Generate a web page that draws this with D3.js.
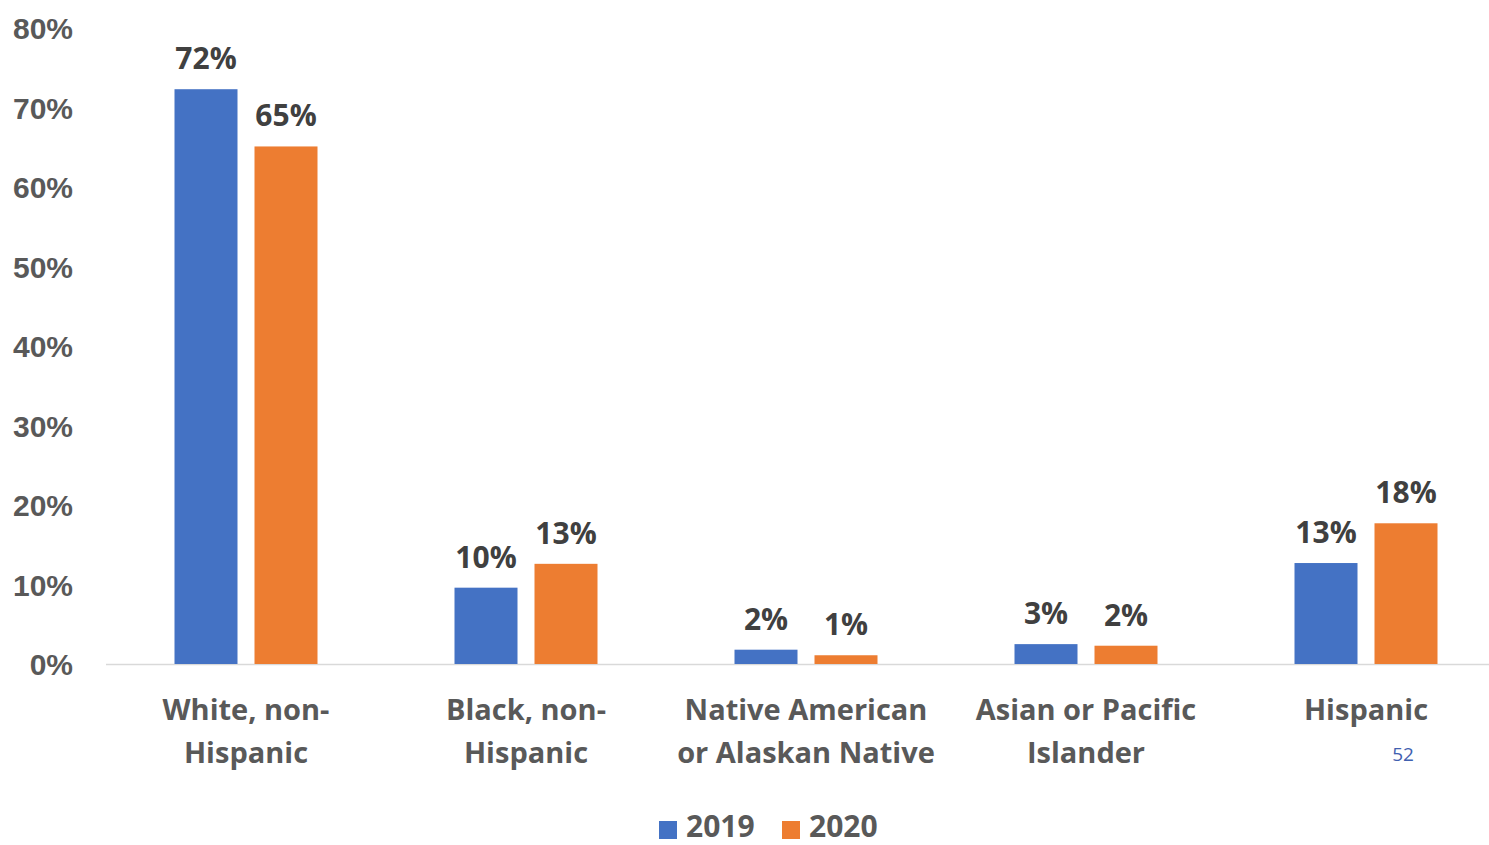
<!DOCTYPE html>
<html>
<head>
<meta charset="utf-8">
<script src="https://cdn.jsdelivr.net/npm/d3@7"></script>
<style>
  html, body { margin: 0; padding: 0; background: #fff; }
  svg { display: block; font-family: "Open Sans", "DejaVu Sans", sans-serif; }
</style>
</head>
<body>
<svg id="chart" width="1489" height="845"></svg>
<script>
const categories = [
  ["White, non-", "Hispanic"],
  ["Black, non-", "Hispanic"],
  ["Native American", "or Alaskan Native"],
  ["Asian or Pacific", "Islander"],
  ["Hispanic"]
];
const seriesNames = ["2019", "2020"];
const values2019 = [72.3, 9.6, 1.8, 2.5, 12.7];
const values2020 = [65.1, 12.6, 1.1, 2.3, 17.7];
const yTicks = [0, 10, 20, 30, 40, 50, 60, 70, 80];
const colors = ["#4472C4", "#ED7D31"];
const pageNumber = "52";

const svg = d3.select("#chart");
const catKeys = categories.map((c, i) => i);
const FS = "30px";

const x0 = d3.scaleBand().domain(catKeys).range([106, 1506]).paddingInner(0).paddingOuter(0);
const x1 = d3.scaleBand().domain(seriesNames).range([0, 143]).paddingInner(0.2125).paddingOuter(0);
const y = d3.scaleLinear().domain([0, 80]).range([664, 28]);
const color = d3.scaleOrdinal().domain(seriesNames).range(colors);

// baseline
svg.append("line")
  .attr("x1", 106).attr("x2", 1489)
  .attr("y1", y(0) + 0.5).attr("y2", y(0) + 0.5)
  .attr("stroke", "#D9D9D9").attr("stroke-width", 1.5);

// y axis labels
const yAxis = d3.axisLeft(y).tickValues(yTicks).tickFormat(d => d + "%").tickSize(0).tickPadding(0);
const yg = svg.append("g").attr("transform", "translate(73,0)").call(yAxis);
yg.select(".domain").remove();
yg.selectAll("text")
  .attr("fill", "#595959")
  .style("font-size", FS)
  .style("font-weight", "700")
  .attr("dy", "0.35em");

// bars
const data = catKeys.map(i => ({
  cat: i,
  vals: [
    { s: seriesNames[0], v: values2019[i] },
    { s: seriesNames[1], v: values2020[i] }
  ]
}));

const groups = svg.append("g").selectAll("g").data(data).join("g")
  .attr("transform", d => `translate(${x0(d.cat) + x0.bandwidth() / 2 - 71.5},0)`);

groups.selectAll("rect").data(d => d.vals).join("rect")
  .attr("x", d => x1(d.s))
  .attr("width", x1.bandwidth())
  .attr("y", d => y(d.v))
  .attr("height", d => y(0) - y(d.v))
  .attr("fill", d => color(d.s));

groups.selectAll("text.lbl").data(d => d.vals).join("text")
  .attr("class", "lbl")
  .attr("x", d => x1(d.s) + x1.bandwidth() / 2)
  .attr("y", d => y(d.v) - 20)
  .attr("text-anchor", "middle")
  .attr("fill", "#404040")
  .style("font-size", FS)
  .style("font-weight", "700")
  .text(d => Math.round(d.v) + "%");

// category labels
const catG = svg.append("g").selectAll("text").data(data).join("text")
  .attr("x", d => x0(d.cat) + x0.bandwidth() / 2)
  .attr("y", 720)
  .attr("text-anchor", "middle")
  .attr("fill", "#595959")
  .style("font-size", "29px")
  .style("font-weight", "700");
catG.each(function(d) {
  const t = d3.select(this);
  categories[d.cat].forEach((line, j) => {
    t.append("tspan").attr("x", x0(d.cat) + x0.bandwidth() / 2).attr("dy", j === 0 ? 0 : 43).text(line);
  });
});

// page number
svg.append("text")
  .attr("x", 1403).attr("y", 761)
  .attr("text-anchor", "middle")
  .attr("fill", "#4060B0")
  .style("font-size", "19px")
  .text(pageNumber);

// legend
const legendX = [659, 782];
const lg = svg.append("g").selectAll("g").data(seriesNames).join("g")
  .attr("transform", (d, i) => `translate(${legendX[i]},821)`);
lg.append("rect").attr("width", 18).attr("height", 18).attr("fill", d => color(d));
lg.append("text")
  .attr("x", 27).attr("y", 16)
  .attr("fill", "#595959")
  .style("font-size", FS)
  .style("font-weight", "700")
  .text(d => d);
</script>
</body>
</html>
